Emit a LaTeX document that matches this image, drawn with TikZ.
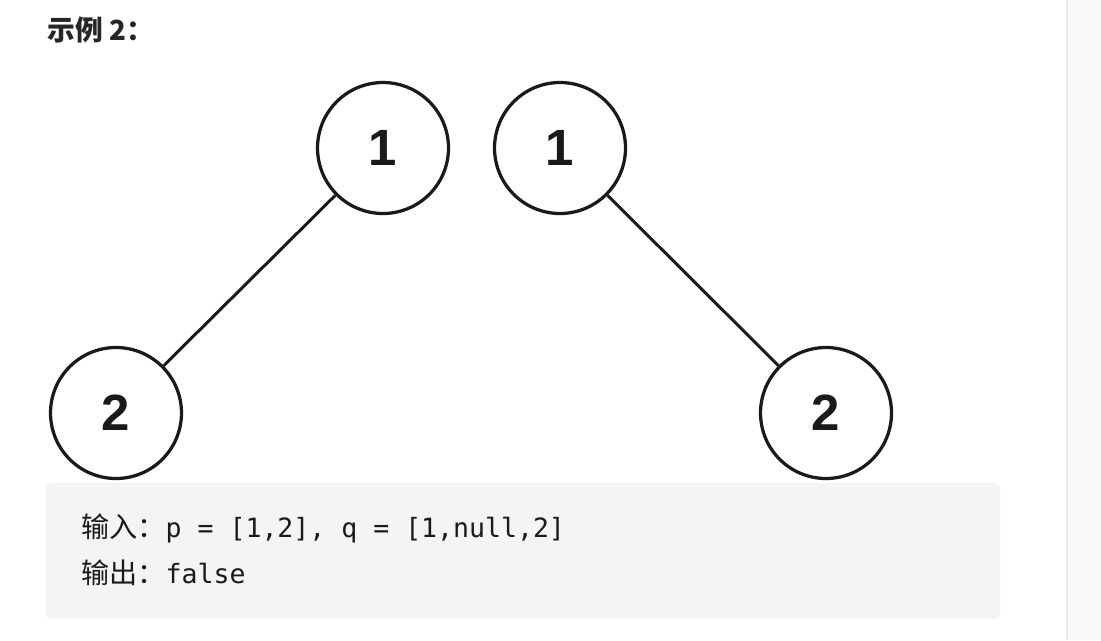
\documentclass[tikz,border=0pt]{standalone}
\usepackage{fontspec}
\setmainfont{Liberation Sans}
\setmonofont{DejaVu Sans Mono}
\newfontfamily\cjkfont{Noto Sans CJK SC}
\usepackage{xcolor}
\definecolor{cInk}{HTML}{1A1A1A}
\definecolor{cTitle}{HTML}{262626}
\definecolor{cCode}{HTML}{F3F4F5}
\definecolor{cSide}{HTML}{FAFAFA}
\definecolor{cRule}{HTML}{EBEBEB}
\usetikzlibrary{positioning}
\tikzset{
  tree-node/.style={draw=cInk,line width=0.065cm,circle,minimum size=2.62cm,
    inner sep=0pt,font=\fontsize{29}{30}\selectfont\bfseries,text=cInk},
  tree-edge/.style={draw=cInk,line width=0.06cm},
  code-line/.style={anchor=base west,inner sep=0pt,text=cInk,
    font=\fontsize{15.1}{17}\selectfont\ttfamily},
  title-text/.style={anchor=west,inner sep=0pt,text=cTitle,
    font=\fontsize{15.8}{17}\selectfont\bfseries\cjkfont},
}
\newcommand\codecjk[1]{{\fontsize{16}{18}\selectfont\cjkfont #1}}

\begin{document}
\begin{tikzpicture}[x=0.02cm,y=-0.02cm]
  \useasboundingbox (0,0) rectangle (1101,640);
  \fill[white] (0,0) rectangle (1101,640);
  % side panel on the right
  \fill[cSide] (1067,0) rectangle (1101,640);
  \draw[cRule,line width=0.03cm] (1067,0) -- (1067,640);

  \node[title-text] (title) at (47,30) {示例 2：};

  % p = [1,2]
  \node[tree-node] (p1) at (383,148) {1};
  \node[tree-node] (p2) at (116,413) {2};
  % q = [1,null,2]
  \node[tree-node] (q1) at (560,148) {1};
  \node[tree-node] (q2) at (826,413) {2};
  \draw[tree-edge] (p1) -- (p2);
  \draw[tree-edge] (q1) -- (q2);

  \fill[cCode,rounded corners=0.08cm] (46,483) rectangle (1000,618);
  \node[code-line] (in) at (81,537) {\codecjk{输入：}p = [1,2], q = [1,null,2]};
  \node[code-line] (out) at (81,583) {\codecjk{输出：}false};
\end{tikzpicture}
\end{document}
